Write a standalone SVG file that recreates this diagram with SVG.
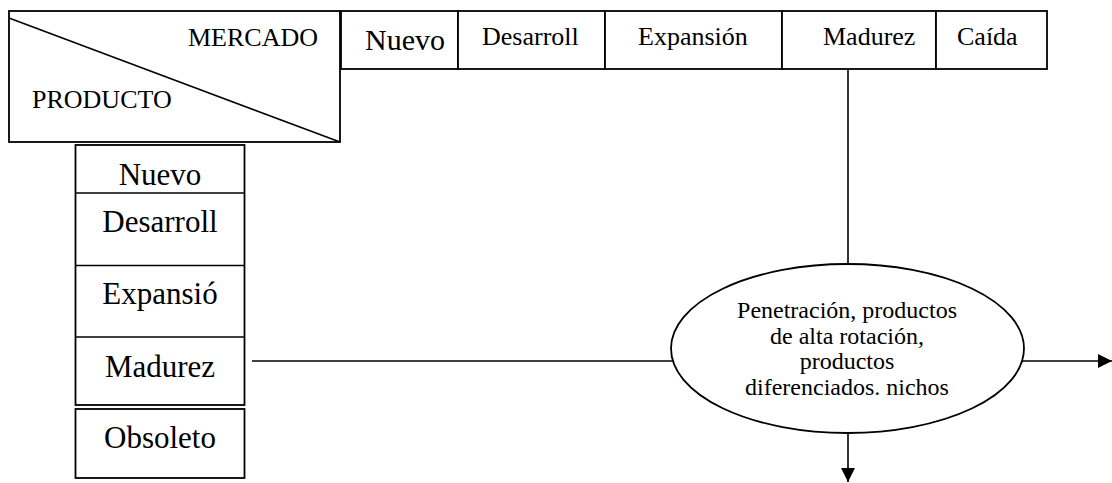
<svg xmlns="http://www.w3.org/2000/svg" width="1112" height="483" viewBox="0 0 1112 483">
<style>
.box{fill:#fff;stroke:#000;stroke-width:1.8}
.ln{fill:none;stroke:#000;stroke-width:1.6}
.t{font-family:'Liberation Serif','DejaVu Serif',serif;fill:#000}
.h{font-size:26px}
.c{font-size:31px;text-anchor:middle}
.e{font-size:24px;text-anchor:middle}
</style>
<defs>
<marker id="arr" viewBox="0 0 10 10" refX="10" refY="5" markerWidth="15" markerHeight="14" markerUnits="userSpaceOnUse" orient="auto">
<path d="M0,0 L10,5 L0,10 Z" fill="#000"/>
</marker>
</defs>
<rect width="1112" height="483" fill="#fff"/>
<g id="connectors">
<line class="ln" x1="848" y1="69" x2="848" y2="264"/>
<line class="ln" x1="252" y1="361" x2="673" y2="361"/>
<line class="ln" x1="1022" y1="361" x2="1112" y2="361" marker-end="url(#arr)"/>
<line class="ln" x1="848" y1="433" x2="848" y2="482" marker-end="url(#arr)"/>
</g>
<g id="corner" font-family="Liberation Serif, DejaVu Serif, serif">
<rect class="box" x="9" y="11" width="331" height="131"/>
<line class="ln" x1="9" y1="18" x2="340" y2="142"/>
<text class="t h" x="188" y="46">MERCADO</text>
<text class="t h" x="32" y="108">PRODUCTO</text>
</g>
<g id="mercado" font-family="Liberation Serif, DejaVu Serif, serif">
<rect class="box" x="341" y="11" width="117" height="58"/>
<text class="t" x="365" y="50" font-size="30">Nuevo</text>
<rect class="box" x="458" y="11" width="147" height="58"/>
<text class="t h" x="482" y="45">Desarroll</text>
<rect class="box" x="605" y="11" width="177" height="58"/>
<text class="t h" x="638" y="45">Expansión</text>
<rect class="box" x="782" y="11" width="154" height="58"/>
<text class="t h" x="823" y="45">Madurez</text>
<rect class="box" x="936" y="11" width="111" height="58"/>
<text class="t h" x="957" y="45">Caída</text>
</g>
<g id="producto" font-family="Liberation Serif, DejaVu Serif, serif">
<rect class="box" x="75.5" y="145" width="169" height="260"/>
<line class="ln" x1="75.5" y1="193" x2="244.5" y2="193"/>
<line class="ln" x1="75.5" y1="265.5" x2="244.5" y2="265.5"/>
<line class="ln" x1="75.5" y1="337" x2="244.5" y2="337"/>
<text class="t c" x="160" y="185">Nuevo</text>
<text class="t c" x="160" y="232">Desarroll</text>
<text class="t c" x="160" y="304">Expansió</text>
<text class="t c" x="160" y="377">Madurez</text>
</g>
<g id="obsoleto" font-family="Liberation Serif, DejaVu Serif, serif">
<rect class="box" x="75.5" y="409" width="169" height="69"/>
<text class="t c" x="160" y="448">Obsoleto</text>
</g>
<g id="estrategia" font-family="Liberation Serif, DejaVu Serif, serif">
<ellipse class="box" cx="847.5" cy="348.5" rx="176.5" ry="84.5"/>
<text class="t e" x="847" y="318">Penetración, productos</text>
<text class="t e" x="847" y="343.5">de alta rotación,</text>
<text class="t e" x="847" y="369">productos</text>
<text class="t e" x="847" y="394.5">diferenciados. nichos</text>
</g>
</svg>
